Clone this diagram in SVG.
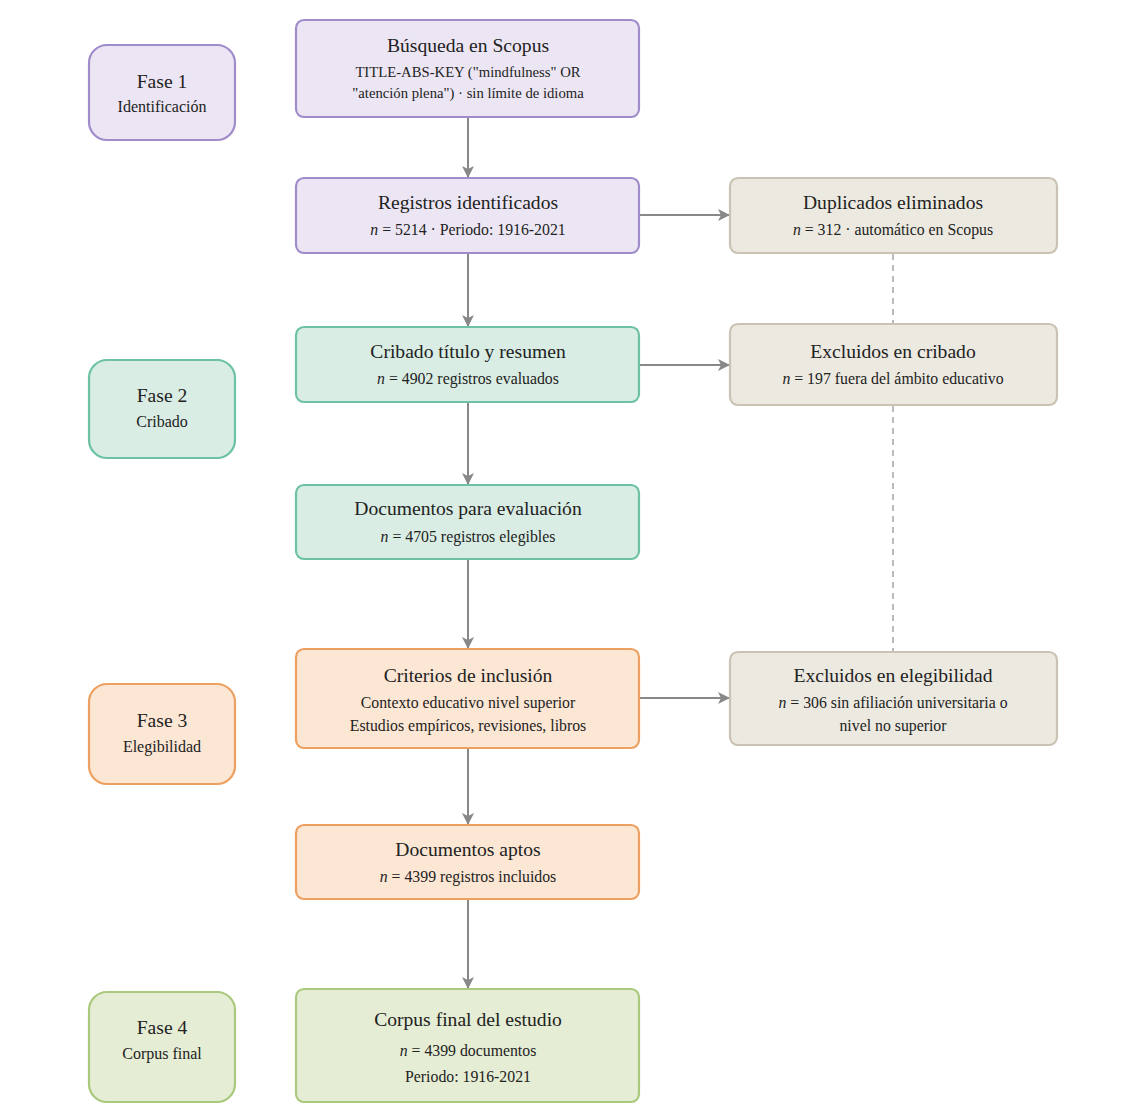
<svg xmlns="http://www.w3.org/2000/svg" width="1139" height="1119" viewBox="0 0 1139 1119">
<defs>
<marker id="ah" viewBox="0 0 12 12" refX="11" refY="6" markerWidth="12" markerHeight="12" markerUnits="userSpaceOnUse" orient="auto">
<path d="M0,0 L12,6 L0,12 L3,6 Z" fill="#888888"/>
</marker>
<style>
text{font-family:"Liberation Serif","DejaVu Serif",serif;fill:#222;text-anchor:middle}
.t{font-size:19.6px}
.s{font-size:15.8px}
.q{font-size:14.7px}
.p{font-size:19.6px}
.ps{font-size:16px}
.pu rect{fill:#ece6f4;stroke:#a08cca;stroke-width:2.2}
.gr rect{fill:#d9ede4;stroke:#6cc2a2;stroke-width:2.2}
.or rect{fill:#fce6d4;stroke:#eda060;stroke-width:2.2}
.lg rect{fill:#e5edd4;stroke:#aac97c;stroke-width:2.2}
.ex rect{fill:#ece9e0;stroke:#cac2b2;stroke-width:2.2}
.c{stroke:#888888;stroke-width:2;fill:none}
.d{stroke:#bbbbbb;stroke-width:2;fill:none;stroke-dasharray:6 5}
</style>
</defs>
<rect width="1139" height="1119" fill="#ffffff"/>
<g id="connectors">
<line class="c" x1="468" y1="117" x2="468" y2="177" marker-end="url(#ah)"/>
<line class="c" x1="468" y1="253" x2="468" y2="326" marker-end="url(#ah)"/>
<line class="c" x1="468" y1="402" x2="468" y2="484" marker-end="url(#ah)"/>
<line class="c" x1="468" y1="559" x2="468" y2="648" marker-end="url(#ah)"/>
<line class="c" x1="468" y1="748" x2="468" y2="824" marker-end="url(#ah)"/>
<line class="c" x1="468" y1="899" x2="468" y2="988" marker-end="url(#ah)"/>
<line class="c" x1="639" y1="215" x2="729" y2="215" marker-end="url(#ah)"/>
<line class="c" x1="639" y1="365" x2="729" y2="365" marker-end="url(#ah)"/>
<line class="c" x1="639" y1="698" x2="729" y2="698" marker-end="url(#ah)"/>
<line class="d" x1="893" y1="254" x2="893" y2="323"/>
<line class="d" x1="893" y1="406" x2="893" y2="651"/>
</g>
<g id="fase1" class="pu"><rect x="89" y="45" width="146" height="95" rx="18"/><text class="p" x="162" y="88">Fase 1</text><text class="ps" x="162" y="112">Identificación</text></g>
<g id="fase2" class="gr"><rect x="89" y="360" width="146" height="98" rx="18"/><text class="p" x="162" y="402">Fase 2</text><text class="ps" x="162" y="427">Cribado</text></g>
<g id="fase3" class="or"><rect x="89" y="684" width="146" height="100" rx="18"/><text class="p" x="162" y="727">Fase 3</text><text class="ps" x="162" y="752">Elegibilidad</text></g>
<g id="fase4" class="lg"><rect x="89" y="992" width="146" height="110" rx="18"/><text class="p" x="162" y="1034">Fase 4</text><text class="ps" x="162" y="1059">Corpus final</text></g>
<g id="busqueda" class="pu"><rect x="296" y="20" width="343" height="97" rx="8"/><text class="t" x="468" y="52">Búsqueda en Scopus</text><text class="q" x="468" y="77">TITLE-ABS-KEY ("mindfulness" OR</text><text class="q" x="468" y="98">"atención plena") · sin límite de idioma</text></g>
<g id="registros" class="pu"><rect x="296" y="178" width="343" height="75" rx="8"/><text class="t" x="468" y="209">Registros identificados</text><text class="s" x="468" y="235"><tspan font-style="italic">n</tspan> = 5214 · Periodo: 1916-2021</text></g>
<g id="duplicados" class="ex"><rect x="730" y="178" width="327" height="75" rx="8"/><text class="t" x="893" y="209">Duplicados eliminados</text><text class="s" x="893" y="235"><tspan font-style="italic">n</tspan> = 312 · automático en Scopus</text></g>
<g id="cribado" class="gr"><rect x="296" y="327" width="343" height="75" rx="8"/><text class="t" x="468" y="358">Cribado título y resumen</text><text class="s" x="468" y="384"><tspan font-style="italic">n</tspan> = 4902 registros evaluados</text></g>
<g id="excl-cribado" class="ex"><rect x="730" y="324" width="327" height="81" rx="8"/><text class="t" x="893" y="358">Excluidos en cribado</text><text class="s" x="893" y="384"><tspan font-style="italic">n</tspan> = 197 fuera del ámbito educativo</text></g>
<g id="documentos" class="gr"><rect x="296" y="485" width="343" height="74" rx="8"/><text class="t" x="468" y="515">Documentos para evaluación</text><text class="s" x="468" y="542"><tspan font-style="italic">n</tspan> = 4705 registros elegibles</text></g>
<g id="criterios" class="or"><rect x="296" y="649" width="343" height="99" rx="8"/><text class="t" x="468" y="682">Criterios de inclusión</text><text class="s" x="468" y="708">Contexto educativo nivel superior</text><text class="s" x="468" y="731">Estudios empíricos, revisiones, libros</text></g>
<g id="excl-eleg" class="ex"><rect x="730" y="652" width="327" height="93" rx="8"/><text class="t" x="893" y="682">Excluidos en elegibilidad</text><text class="s" x="893" y="708"><tspan font-style="italic">n</tspan> = 306 sin afiliación universitaria o</text><text class="s" x="893" y="731">nivel no superior</text></g>
<g id="aptos" class="or"><rect x="296" y="825" width="343" height="74" rx="8"/><text class="t" x="468" y="856">Documentos aptos</text><text class="s" x="468" y="882"><tspan font-style="italic">n</tspan> = 4399 registros incluidos</text></g>
<g id="corpus" class="lg"><rect x="296" y="989" width="343" height="113" rx="8"/><text class="t" x="468" y="1026">Corpus final del estudio</text><text class="s" x="468" y="1056"><tspan font-style="italic">n</tspan> = 4399 documentos</text><text class="s" x="468" y="1082">Periodo: 1916-2021</text></g>
</svg>
